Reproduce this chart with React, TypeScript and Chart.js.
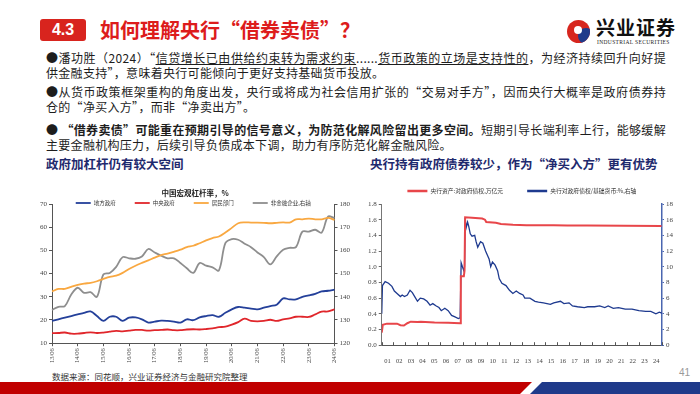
import React, { useEffect, useRef } from "react";
import { Chart, registerables } from "chart.js";
Chart.register(...registerables);

const CJK = '"Noto Sans CJK SC", "Noto Sans", sans-serif';
const SERIF = '"Liberation Serif", "DejaVu Serif", serif';

// ---------- Left chart: 中国宏观杠杆率 (quarterly 13/06 - 24/06) ----------
const quarterLabels = [
  "13/06", "13/09", "13/12", "14/03", "14/06", "14/09", "14/12", "15/03", "15/06", "15/09", "15/12",
  "16/03", "16/06", "16/09", "16/12", "17/03", "17/06", "17/09", "17/12", "18/03", "18/06", "18/09",
  "18/12", "19/03", "19/06", "19/09", "19/12", "20/03", "20/06", "20/09", "20/12", "21/03", "21/06",
  "21/09", "21/12", "22/03", "22/06", "22/09", "22/12", "23/03", "23/06", "23/09", "23/12", "24/03", "24/06",
];
const localGov = [
  19.6, 20.3, 21.0, 21.7, 22.4, 23.1, 23.7, 21.7, 19.6, 21.4, 21.4, 19.6, 21.0, 21.1, 20.3, 18.9,
  19.3, 19.7, 19.6, 19.3, 18.9, 20.3, 19.9, 21.1, 21.7, 22.1, 21.4, 23.1, 24.6, 25.6, 25.3, 24.9,
  24.6, 25.3, 26.0, 26.6, 29.3, 28.9, 28.9, 30.0, 30.6, 31.3, 32.3, 32.6, 33.1,
];
const centralGov = [
  14.3, 14.4, 14.6, 14.1, 14.1, 14.4, 14.7, 14.4, 14.6, 15.0, 15.3, 15.1, 15.4, 15.7, 15.7, 15.4,
  15.6, 15.7, 15.9, 15.6, 15.6, 15.9, 16.0, 15.9, 16.1, 16.4, 16.9, 17.1, 18.0, 19.1, 20.6, 19.6,
  19.4, 19.6, 20.1, 19.6, 20.3, 20.7, 21.4, 21.4, 21.3, 22.4, 23.6, 23.7, 24.6,
];
const household = [
  32.3, 33.4, 33.4, 34.3, 35.1, 35.7, 36.0, 36.7, 37.7, 38.6, 39.1, 40.3, 42.0, 43.4, 44.6, 45.7,
  46.9, 48.0, 48.6, 49.4, 50.3, 51.4, 52.0, 53.1, 54.3, 55.3, 56.0, 57.7, 59.7, 61.7, 62.1, 62.0,
  62.0, 61.9, 61.7, 61.9, 62.1, 62.0, 63.4, 63.4, 63.7, 63.4, 63.4, 64.0, 63.1,
];
const nonFinCorp = [
  134.3, 135.7, 136.0, 141.0, 143.9, 141.7, 142.0, 140.0, 149.6, 150.3, 152.9, 157.1, 156.6, 156.4,
  157.4, 160.6, 159.1, 157.7, 156.6, 156.6, 154.6, 152.3, 150.3, 154.6, 153.4, 152.7, 151.4, 163.1,
  164.9, 164.6, 162.9, 161.4, 159.1, 157.1, 154.0, 157.4, 160.3, 161.1, 161.4, 168.1, 168.1, 168.9,
  167.7, 174.6, 173.9,
];

// ---------- Right chart: 央行对政府债权 ----------
const yearLabels = [
  "01", "02", "03", "04", "05", "06", "07", "08", "09", "10", "11", "12",
  "13", "14", "15", "16", "17", "18", "19", "20", "21", "22", "23", "24",
];
const yearStarts = [
  2001, 2002, 2003, 2004, 2005, 2006, 2007, 2008, 2009, 2010, 2011, 2012,
  2013, 2014, 2015, 2016, 2017, 2018, 2019, 2020, 2021, 2022, 2023, 2024, 2025,
];
const claimDates = [
  2001.0, 2001.09, 2001.44, 2002.31, 2002.6, 2002.9, 2003.19, 2003.48, 2004.06, 2004.35, 2005.52,
  2006.69, 2007.71, 2007.77, 2008.03, 2008.09, 2008.14, 2008.73, 2009.6, 2009.84, 2009.95, 2010.77,
  2011.21, 2012.23, 2013.39, 2015.73, 2016.89, 2018.64, 2024.95,
];
const claimValues = [
  0.16, 0.26, 0.275, 0.275, 0.255, 0.25, 0.28, 0.3, 0.295, 0.3, 0.29,
  0.285, 0.28, 0.88, 0.88, 0.95, 1.63, 1.625, 1.615, 1.6, 1.57, 1.56,
  1.545, 1.535, 1.53, 1.53, 1.525, 1.525, 1.52,
];
const ratioDates = [
  2001.0, 2001.06, 2001.29, 2001.58, 2001.87, 2002.08, 2002.31, 2002.6, 2002.75, 2002.95, 2003.19,
  2003.42, 2003.62, 2003.86, 2004.06, 2004.3, 2004.59, 2004.88, 2005.14, 2005.37, 2005.67, 2005.9,
  2006.1, 2006.4, 2006.69, 2006.98, 2007.27, 2007.56, 2007.71, 2007.8, 2007.91, 2008.03, 2008.09,
  2008.14, 2008.23, 2008.35, 2008.44, 2008.58, 2008.73, 2008.96, 2009.08, 2009.22, 2009.46, 2009.66,
  2009.89, 2010.04, 2010.19, 2010.33, 2010.48, 2010.71, 2010.92, 2011.06, 2011.29, 2011.64, 2011.94,
  2012.23, 2012.52, 2012.81, 2013.1, 2013.25, 2013.69, 2014.12, 2014.42, 2014.85, 2015.44, 2015.73,
  2016.31, 2016.6, 2017.04, 2017.33, 2017.77, 2018.35, 2018.64, 2019.23, 2019.66, 2020.1, 2020.39,
  2020.83, 2021.27, 2021.56, 2021.85, 2022.43, 2023.02, 2023.6, 2024.04, 2024.48, 2024.77, 2024.98,
];
const ratioValues = [
  4.0, 7.6, 8.1, 7.9, 7.5, 6.9, 6.6, 6.2, 6.4, 6.2, 6.4,
  7.0, 6.7, 6.1, 5.6, 6.0, 5.9, 5.6, 5.1, 5.3, 5.0, 4.8,
  4.4, 4.7, 4.4, 3.8, 3.6, 3.4, 3.5, 10.5, 10.0, 9.5, 10.0,
  16.2, 15.0, 15.7, 15.2, 14.2, 13.9, 14.0, 13.2, 12.5, 13.2, 13.0,
  12.0, 11.5, 11.0, 10.0, 10.6, 10.2, 9.5, 8.5, 7.9, 7.6, 7.0,
  6.6, 6.9, 6.6, 6.4, 6.0, 6.0, 5.6, 5.5, 5.4, 5.2, 5.4,
  5.6, 5.3, 5.4, 5.0, 4.9, 4.8, 4.9, 4.9, 5.0, 4.8, 5.0,
  4.7, 4.8, 4.7, 4.6, 4.6, 4.4, 4.3, 4.3, 4.0, 4.2, 4.1,
];

const tickFont = { family: SERIF, size: 7 };

// Legend drawn in one row, centred over the plot, from the datasets' own labels/colours.
function makeLegend(cfg: { y: number; fontSize: number; swatch: number; thick: number; gap: number; pad: number }) {
  return {
    id: "rowLegend",
    afterDraw(chart: any) {
      const { ctx, chartArea } = chart;
      const items = chart.data.datasets.map((ds: any) => ({ text: ds.label as string, color: ds.borderColor as string }));
      ctx.save();
      ctx.font = `${cfg.fontSize}px ${CJK}`;
      const widths = items.map((it: any) => cfg.swatch + cfg.gap + ctx.measureText(it.text).width);
      const total = widths.reduce((a: number, b: number) => a + b, 0) + cfg.pad * (items.length - 1);
      let x = (chartArea.left + chartArea.right) / 2 - total / 2;
      const y = chartArea.top + cfg.y;
      ctx.textBaseline = "middle";
      items.forEach((it: any, i: number) => {
        ctx.fillStyle = it.color;
        ctx.fillRect(x, y - cfg.thick / 2, cfg.swatch, cfg.thick);
        ctx.fillStyle = "#333";
        ctx.fillText(it.text, x + cfg.swatch + cfg.gap, y);
        x += widths[i] + cfg.pad;
      });
      ctx.restore();
    },
  };
}

function LeverageChart() {
  const ref = useRef<HTMLCanvasElement | null>(null);
  useEffect(() => {
    if (!ref.current) return;
    const line = (label: string, data: number[], color: string, axis: string) => ({
      label, data, borderColor: color, backgroundColor: color, borderWidth: 1.8,
      pointRadius: 0, tension: 0.35, yAxisID: axis,
    });
    const chart = new Chart(ref.current, {
      type: "line",
      data: {
        labels: quarterLabels,
        datasets: [
          line("地方政府", localGov, "#24409A", "y"),
          line("中央政府", centralGov, "#E0262B", "y"),
          line("居民部门", household, "#F9A841", "y"),
          line("非金融企业,右轴", nonFinCorp, "#8E8E8E", "y1"),
        ],
      },
      options: {
        responsive: false,
        animation: false,
        layout: { padding: { left: 0, right: 0, top: 0, bottom: 0 } },
        plugins: {
          title: {
            display: true, text: "中国宏观杠杆率，%", color: "#222",
            font: { family: CJK, size: 7.5, weight: "bold" }, padding: { top: 2, bottom: 6 },
          },
          legend: { display: false },
          tooltip: { enabled: false },
        },
        scales: {
          x: {
            afterBuildTicks: (scale: any) => { scale.ticks = scale.ticks.filter((_t: any, i: number) => i % 4 === 0); },
            ticks: { autoSkip: false, minRotation: 90, maxRotation: 90, font: { family: SERIF, size: 6.5 }, color: "#444", padding: 2 },
            grid: { display: true, drawOnChartArea: false, tickLength: 3, color: "#555" },
            border: { color: "#555" },
          },
          y: {
            min: 10, max: 70,
            ticks: { stepSize: 10, font: tickFont, color: "#444", padding: 2 },
            grid: { display: true, drawOnChartArea: false, tickLength: 3, color: "#555" },
            border: { color: "#555" },
          },
          y1: {
            position: "right", min: 120, max: 180,
            ticks: { stepSize: 10, font: tickFont, color: "#444", padding: 2 },
            grid: { display: true, drawOnChartArea: false, tickLength: 3, color: "#555" },
            border: { color: "#555" },
          },
        },
      } as any,
      plugins: [makeLegend({ y: -1, fontSize: 5.5, swatch: 15, thick: 1.8, gap: 3, pad: 19 })],
    });
    return () => chart.destroy();
  }, []);
  return <canvas ref={ref} width={314} height={178} style={{ display: "block" }} />;
}

const yearTickPlugin = {
  id: "yearTicks",
  afterDraw(chart: any) {
    const x = chart.scales.x;
    const { ctx, chartArea } = chart;
    ctx.save();
    ctx.strokeStyle = "#555";
    ctx.lineWidth = 1;
    for (const yr of yearStarts) {
      const px = Math.round(x.getPixelForValue(yr)) + 0.5;
      ctx.beginPath();
      ctx.moveTo(px, chartArea.bottom);
      ctx.lineTo(px, chartArea.bottom - 3);
      ctx.stroke();
    }
    ctx.restore();
  },
};

function ClaimsChart() {
  const ref = useRef<HTMLCanvasElement | null>(null);
  useEffect(() => {
    if (!ref.current) return;
    const chart = new Chart(ref.current, {
      type: "line",
      data: {
        datasets: [
          {
            label: "央行资产:对政府债权,万亿元",
            data: claimDates.map((d, i) => ({ x: d, y: claimValues[i] })),
            borderColor: "#E8464A", backgroundColor: "#E8464A", borderWidth: 2,
            pointRadius: 0, tension: 0, yAxisID: "y",
          },
          {
            label: "央行对政府债权/基础货币:%,右轴",
            data: ratioDates.map((d, i) => ({ x: d, y: ratioValues[i] })),
            borderColor: "#1E3A8F", backgroundColor: "#1E3A8F", borderWidth: 1.3,
            pointRadius: 0, tension: 0, yAxisID: "y1",
          },
        ],
      },
      options: {
        responsive: false,
        animation: false,
        layout: { padding: { left: 0, right: 0, top: 21, bottom: 0 } },
        plugins: {
          legend: { display: false },
          tooltip: { enabled: false },
        },
        scales: {
          x: {
            type: "linear", min: 2001, max: 2025,
            afterBuildTicks: (scale: any) => { scale.ticks = yearStarts.slice(0, 24).map((v) => ({ value: v + 0.5 })); },
            ticks: {
              autoSkip: false, maxRotation: 0, font: { family: SERIF, size: 6.5 }, color: "#444", padding: 4,
              callback: (_v: any, i: number) => yearLabels[i],
            },
            grid: { display: false },
            border: { color: "#555" },
          },
          y: {
            min: 0, max: 1.8,
            ticks: { stepSize: 0.2, font: tickFont, color: "#444", padding: 2, callback: (v: any) => Number(v).toFixed(1) },
            grid: { display: true, drawOnChartArea: false, tickLength: 3, color: "#666" },
            border: { color: "#777" },
          },
          y1: {
            position: "right", min: 0, max: 18,
            ticks: { stepSize: 2, font: tickFont, color: "#444", padding: 2 },
            grid: { display: true, drawOnChartArea: false, tickLength: 2, color: "#4A66B0" },
            border: { color: "#4A66B0", width: 1.5 },
          },
        },
      } as any,
      plugins: [yearTickPlugin, makeLegend({ y: -13, fontSize: 5.8, swatch: 20, thick: 2.5, gap: 3, pad: 24 })],
    });
    return () => chart.destroy();
  }, []);
  return <canvas ref={ref} width={309} height={186} style={{ display: "block" }} />;
}

const lineStyle: React.CSSProperties = {
  position: "absolute", left: 46, width: 620, fontFamily: CJK, fontSize: 12,
  lineHeight: "16px", color: "#1d1d1d", whiteSpace: "nowrap", letterSpacing: 0.3,
};
const fullLine: React.CSSProperties = { ...lineStyle, textAlign: "justify", textAlignLast: "justify" as any, whiteSpace: "normal" };

export default function App() {
  return (
    <div style={{ position: "fixed", left: 0, top: 0, width: 700, height: 394, overflow: "hidden", background: "#fff" }}>
      {/* header */}
      <div style={{
        position: "absolute", left: 40, top: 19, width: 46, height: 22, background: "#D8241E", borderRadius: 3,
        color: "#fff", fontFamily: '"Liberation Sans", Arial, sans-serif', fontWeight: "bold", fontSize: 16,
        lineHeight: "22px", textAlign: "center",
      }}>4.3</div>
      <div style={{
        position: "absolute", left: 100, top: 16, fontFamily: CJK, fontWeight: "bold", fontSize: 20,
        lineHeight: "28px", color: "#DD1C1C", whiteSpace: "nowrap",
      }}>如何理解央行“借券卖债”？</div>

      {/* logo */}
      <div style={{ position: "absolute", left: 567, top: 20, width: 23, height: 23, borderRadius: "50%", background: "#D7261E", overflow: "hidden" }}>
        <div style={{ position: "absolute", left: 11, top: 8, width: 16, height: 16, borderRadius: "50%", background: "#1F3A8A" }} />
        <div style={{ position: "absolute", left: 7, top: 6, width: 8, height: 8, borderRadius: "50%", background: "#fff" }} />
      </div>
      <div style={{
        position: "absolute", left: 596, top: 15, fontFamily: CJK, fontWeight: "bold", fontSize: 19,
        lineHeight: "24px", color: "#111", whiteSpace: "nowrap", letterSpacing: 1,
      }}>兴业证券</div>
      <div style={{
        position: "absolute", left: 597, top: 39, fontFamily: SERIF, fontSize: 5.5, lineHeight: "7px",
        color: "#222", whiteSpace: "nowrap", letterSpacing: 0.35,
      }}>INDUSTRIAL SECURITIES</div>

      {/* bullet text */}
      <div style={{ ...fullLine, top: 50 }}>
        ●潘功胜（2024）“<span style={{ textDecoration: "underline" }}>信贷增长已由供给约束转为需求约束</span>......<span style={{ textDecoration: "underline" }}>货币政策的立场是支持性的</span>，为经济持续回升向好提
      </div>
      <div style={{ ...lineStyle, top: 65 }}>供金融支持”，意味着央行可能倾向于更好支持基础货币投放。</div>
      <div style={{ ...fullLine, top: 84 }}>●从货币政策框架重构的角度出发，央行或将成为社会信用扩张的“交易对手方”，因而央行大概率是政府债券持</div>
      <div style={{ ...lineStyle, top: 99 }}>仓的“净买入方”，而非“净卖出方”。</div>
      <div style={{ ...fullLine, top: 122 }}>
        ● <b>“借券卖债”可能重在预期引导的信号意义，为防范化解风险留出更多空间。</b>短期引导长端利率上行，能够缓解
      </div>
      <div style={{ ...lineStyle, top: 137 }}>主要金融机构压力，后续引导负债成本下调，助力有序防范化解金融风险。</div>

      {/* section titles */}
      <div style={{ position: "absolute", left: 46, top: 156, fontFamily: CJK, fontWeight: "bold", fontSize: 12.5, lineHeight: "16px", color: "#1F2A6E", whiteSpace: "nowrap" }}>
        政府加杠杆仍有较大空间
      </div>
      <div style={{ position: "absolute", left: 370, top: 156, fontFamily: CJK, fontWeight: "bold", fontSize: 12.5, lineHeight: "16px", color: "#1F2A6E", whiteSpace: "nowrap" }}>
        央行持有政府债券较少，作为“净买入方”更有优势
      </div>

      {/* charts */}
      <div style={{ position: "absolute", left: 38, top: 187 }}><LeverageChart /></div>
      <div style={{ position: "absolute", left: 366, top: 183 }}><ClaimsChart /></div>

      {/* footer */}
      <div style={{ position: "absolute", left: 52, top: 370, fontFamily: CJK, fontSize: 8.5, lineHeight: "12px", color: "#333", whiteSpace: "nowrap" }}>
        数据来源：同花顺，兴业证券经济与金融研究院整理
      </div>
      <div style={{ position: "absolute", left: 679, top: 367, fontFamily: '"Liberation Sans", Arial, sans-serif', fontSize: 10, lineHeight: "12px", color: "#999" }}>41</div>
      <div style={{ position: "absolute", left: 0, top: 382, width: 700, height: 12, background: "#C00000", clipPath: "polygon(0 0, 532px 0, 520px 100%, 0 100%)" }} />
      <div style={{ position: "absolute", left: 0, top: 382, width: 700, height: 12, background: "#1F3A8A", clipPath: "polygon(542px 0, 700px 0, 700px 100%, 530px 100%)" }} />
    </div>
  );
}
